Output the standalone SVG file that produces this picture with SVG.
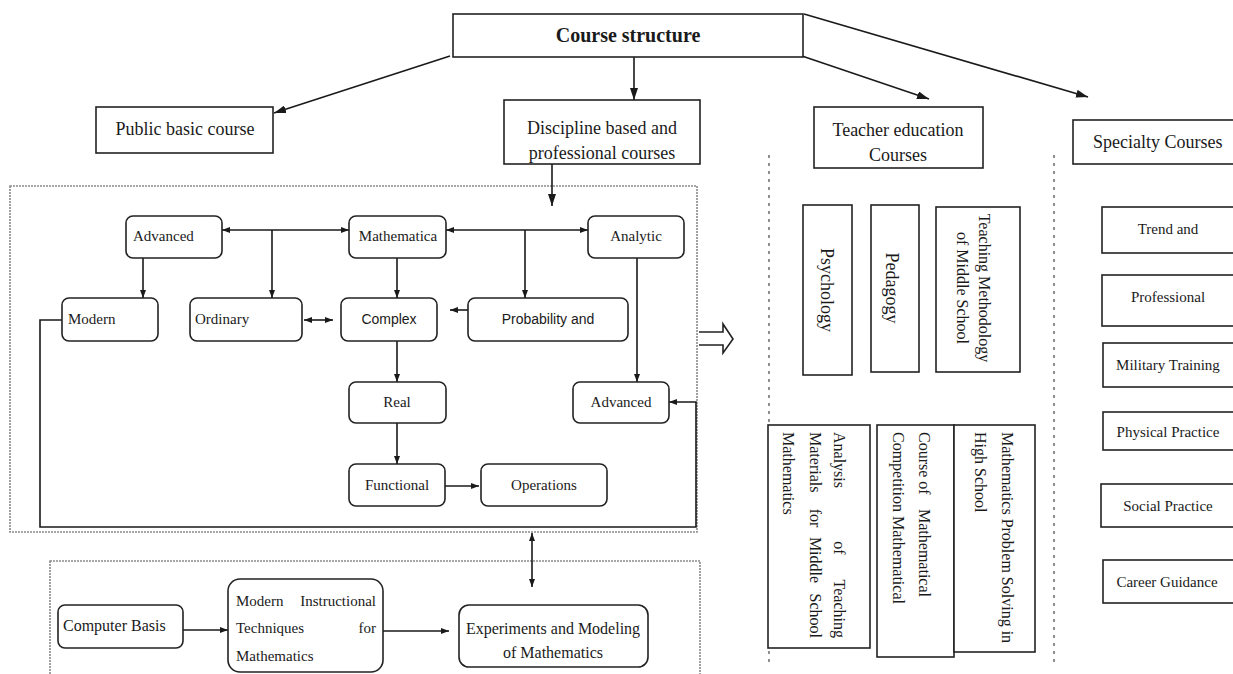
<svg xmlns="http://www.w3.org/2000/svg" width="1233" height="674" viewBox="0 0 1233 674">
<defs>
<marker id="ah" viewBox="0 0 8 6" refX="8" refY="3" markerWidth="8" markerHeight="6" markerUnits="userSpaceOnUse" orient="auto-start-reverse"><path d="M0,0 L8,3 L0,6 z" fill="#1a1a1a"/></marker>
<marker id="big" viewBox="0 0 12 8" refX="12" refY="4" markerWidth="12" markerHeight="8" markerUnits="userSpaceOnUse" orient="auto"><path d="M0,0 L12,4 L0,8 z" fill="#1a1a1a"/></marker>
<style>
.box{fill:#fff;stroke:#222;stroke-width:1.6}
.rb{fill:#fff;stroke:#222;stroke-width:1.6}
.dash{fill:none;stroke:#8a8a8a;stroke-width:1.6;stroke-dasharray:2 1}
.vdash{fill:none;stroke:#555;stroke-width:1.3;stroke-dasharray:3 5}
.ln{fill:none;stroke:#1a1a1a;stroke-width:1.6}
.t{font-family:"Liberation Serif","Times New Roman",serif;fill:#1a1a1a}
.s{font-family:"Liberation Sans",Arial,sans-serif;fill:#1a1a1a}
.c{text-anchor:middle}
</style>
</defs>
<rect width="1233" height="674" fill="#fff"/>

<!-- dashed group frames and separators -->
<rect class="dash" x="10" y="186" width="687" height="346"/>
<rect class="dash" x="50" y="561" width="650" height="125"/>
<line class="vdash" x1="769" y1="155" x2="769" y2="665"/>
<line class="vdash" x1="1054" y1="155" x2="1054" y2="665"/>

<g id="connectors">
<line class="ln" x1="450" y1="56" x2="274" y2="113" marker-end="url(#big)"/>
<line class="ln" x1="634" y1="57" x2="634" y2="100" marker-end="url(#big)"/>
<line class="ln" x1="802" y1="56" x2="929" y2="99" marker-end="url(#big)"/>
<line class="ln" x1="804" y1="14" x2="1088" y2="97" marker-end="url(#big)"/>
<line class="ln" x1="552" y1="164" x2="552" y2="206" marker-end="url(#big)"/>
<line class="ln" x1="222" y1="230" x2="349" y2="230" marker-start="url(#ah)" marker-end="url(#ah)"/>
<line class="ln" x1="272" y1="230" x2="272" y2="298" marker-end="url(#ah)"/>
<line class="ln" x1="446" y1="230" x2="588" y2="230" marker-start="url(#ah)" marker-end="url(#ah)"/>
<line class="ln" x1="525" y1="230" x2="525" y2="298" marker-end="url(#ah)"/>
<line class="ln" x1="143" y1="258" x2="143" y2="298" marker-end="url(#ah)"/>
<line class="ln" x1="397" y1="258" x2="397" y2="298" marker-end="url(#ah)"/>
<line class="ln" x1="304" y1="320" x2="333" y2="320" marker-start="url(#ah)" marker-end="url(#ah)"/>
<line class="ln" x1="468" y1="310" x2="450" y2="310" marker-end="url(#ah)"/>
<line class="ln" x1="397" y1="341" x2="397" y2="382" marker-end="url(#ah)"/>
<line class="ln" x1="397" y1="423" x2="397" y2="464" marker-end="url(#ah)"/>
<line class="ln" x1="445" y1="486" x2="479" y2="486" marker-end="url(#ah)"/>
<line class="ln" x1="637" y1="258" x2="637" y2="382" marker-end="url(#ah)"/>
<polyline class="ln" points="62,320 40,320 40,527 696,527 696,402 669,402" marker-end="url(#ah)"/>
<line class="ln" x1="532" y1="533" x2="532" y2="587" marker-start="url(#ah)" marker-end="url(#ah)"/>
<line class="ln" x1="183" y1="630" x2="228" y2="630" marker-end="url(#ah)"/>
<line class="ln" x1="383" y1="631" x2="449" y2="631" marker-end="url(#ah)"/>
<path d="M699,332 H723 V324 L733,339 L723,353 V345 H699" fill="#fff" stroke="#222" stroke-width="1.6"/>
</g>

<g id="course"><rect class="box" x="453" y="14" width="350" height="43"/><text class="t c" x="628" y="42" font-size="20" font-weight="bold">Course structure</text></g>
<g id="public"><rect class="box" x="96" y="107" width="177" height="46"/><text class="t c" x="185" y="135" font-size="18">Public basic course</text></g>
<g id="discipline"><rect class="box" x="504" y="100" width="196" height="64"/><text class="t c" x="602" y="134" font-size="18">Discipline based and</text><text class="t c" x="602" y="159" font-size="18">professional courses</text></g>
<g id="teacher"><rect class="box" x="814" y="107" width="169" height="61"/><text class="t c" x="898" y="136" font-size="18">Teacher education</text><text class="t c" x="898" y="161" font-size="18">Courses</text></g>
<g id="specialty"><rect class="box" x="1073" y="120" width="175" height="44"/><text class="t" x="1093" y="148" font-size="18">Specialty Courses</text></g>

<g id="advanced"><rect class="rb" x="126" y="216" width="96" height="42" rx="7"/><text class="t" x="133" y="241" font-size="15">Advanced</text></g>
<g id="mathematica"><rect class="rb" x="349" y="216" width="97" height="42" rx="7"/><text class="t c" x="398" y="241" font-size="15">Mathematica</text></g>
<g id="analytic"><rect class="rb" x="588" y="216" width="96" height="42" rx="7"/><text class="t c" x="636" y="241" font-size="15">Analytic</text></g>
<g id="modern"><rect class="rb" x="62" y="298" width="96" height="43" rx="7"/><text class="t" x="68" y="324" font-size="15">Modern</text></g>
<g id="ordinary"><rect class="rb" x="190" y="298" width="112" height="43" rx="7"/><text class="t" x="195" y="324" font-size="15">Ordinary</text></g>
<g id="complex"><rect class="rb" x="341" y="298" width="96" height="43" rx="7"/><text class="s c" x="389" y="324" font-size="14">Complex</text></g>
<g id="probability"><rect class="rb" x="468" y="298" width="160" height="43" rx="7"/><text class="s c" x="548" y="324" font-size="14">Probability and</text></g>
<g id="real"><rect class="rb" x="349" y="382" width="97" height="41" rx="7"/><text class="t c" x="397" y="407" font-size="15">Real</text></g>
<g id="advanced2"><rect class="rb" x="573" y="382" width="96" height="41" rx="7"/><text class="t c" x="621" y="407" font-size="15">Advanced</text></g>
<g id="functional"><rect class="rb" x="349" y="464" width="96" height="42" rx="7"/><text class="t c" x="397" y="490" font-size="15">Functional</text></g>
<g id="operations"><rect class="rb" x="481" y="464" width="126" height="42" rx="7"/><text class="t c" x="544" y="490" font-size="15">Operations</text></g>

<g id="computer"><rect class="rb" x="58" y="605" width="125" height="43" rx="7"/><text class="t" x="63" y="631" font-size="16">Computer Basis</text></g>
<g id="instructional"><rect class="rb" x="228" y="579" width="155" height="93" rx="12"/>
<text class="t" font-size="15"><tspan x="236" y="606">Modern</tspan><tspan x="376" y="606" text-anchor="end">Instructional</tspan><tspan x="236" y="633">Techniques</tspan><tspan x="376" y="633" text-anchor="end">for</tspan><tspan x="236" y="661">Mathematics</tspan></text></g>
<g id="experiments"><rect class="rb" x="459" y="605" width="189" height="62" rx="10"/><text class="t c" x="553" y="634" font-size="16">Experiments and Modeling</text><text class="t c" x="553" y="658" font-size="16">of Mathematics</text></g>

<g id="psychology"><rect class="box" x="803" y="205" width="49" height="170"/><text class="t c" transform="translate(827,290) rotate(90)" x="0" y="0" dominant-baseline="central" font-size="18">Psychology</text></g>
<g id="pedagogy"><rect class="box" x="871" y="205" width="48" height="167"/><text class="t c" transform="translate(892,288) rotate(90)" x="0" y="0" dominant-baseline="central" font-size="18">Pedagogy</text></g>
<g id="methodology"><rect class="box" x="936" y="207" width="84" height="165"/><text class="t c" transform="translate(984,288) rotate(90)" x="0" y="0" dominant-baseline="central" font-size="16">Teaching Methodology</text><text class="t c" transform="translate(962,288) rotate(90)" x="0" y="0" dominant-baseline="central" font-size="16">of Middle School</text></g>

<g id="analysis"><rect class="box" x="768" y="425" width="102" height="223"/>
<text class="t" transform="translate(840,0) rotate(90)" dominant-baseline="central" font-size="16"><tspan x="432" y="0">Analysis</tspan><tspan x="548" y="0" text-anchor="middle">of</tspan><tspan x="638" y="0" text-anchor="end">Teaching</tspan></text>
<text class="t" transform="translate(816,0) rotate(90)" dominant-baseline="central" font-size="16"><tspan x="432" y="0">Materials</tspan><tspan x="518" y="0" text-anchor="middle">for</tspan><tspan x="560" y="0" text-anchor="middle">Middle</tspan><tspan x="638" y="0" text-anchor="end">School</tspan></text>
<text class="t" transform="translate(788,0) rotate(90)" dominant-baseline="central" font-size="16" x="432" y="0">Mathematics</text></g>
<g id="competition"><rect class="box" x="877" y="425" width="77" height="232"/>
<text class="t" transform="translate(925,0) rotate(90)" dominant-baseline="central" font-size="16"><tspan x="432" y="0">Course of</tspan><tspan x="597" y="0" text-anchor="end">Mathematical</tspan></text>
<text class="t" transform="translate(898,0) rotate(90)" dominant-baseline="central" font-size="16" x="432" y="0">Competition Mathematical</text></g>
<g id="problem"><rect class="box" x="954" y="425" width="81" height="227"/>
<text class="t" transform="translate(1007,0) rotate(90)" dominant-baseline="central" font-size="16" x="432" y="0">Mathematics Problem Solving in</text>
<text class="t" transform="translate(980,0) rotate(90)" dominant-baseline="central" font-size="16" x="432" y="0">High School</text></g>

<g id="trend"><rect class="box" x="1102" y="207" width="140" height="46"/><text class="t c" x="1168" y="234" font-size="15">Trend and</text></g>
<g id="professional"><rect class="box" x="1102" y="275" width="140" height="51"/><text class="t c" x="1168" y="302" font-size="15">Professional</text></g>
<g id="military"><rect class="box" x="1103" y="343" width="140" height="44"/><text class="t c" x="1168" y="370" font-size="15">Military Training</text></g>
<g id="physical"><rect class="box" x="1103" y="412" width="140" height="38"/><text class="t c" x="1168" y="437" font-size="15">Physical Practice</text></g>
<g id="social"><rect class="box" x="1101" y="484" width="140" height="43"/><text class="t c" x="1168" y="511" font-size="15">Social Practice</text></g>
<g id="career"><rect class="box" x="1103" y="560" width="140" height="43"/><text class="t c" x="1167" y="587" font-size="15">Career Guidance</text></g>
</svg>
